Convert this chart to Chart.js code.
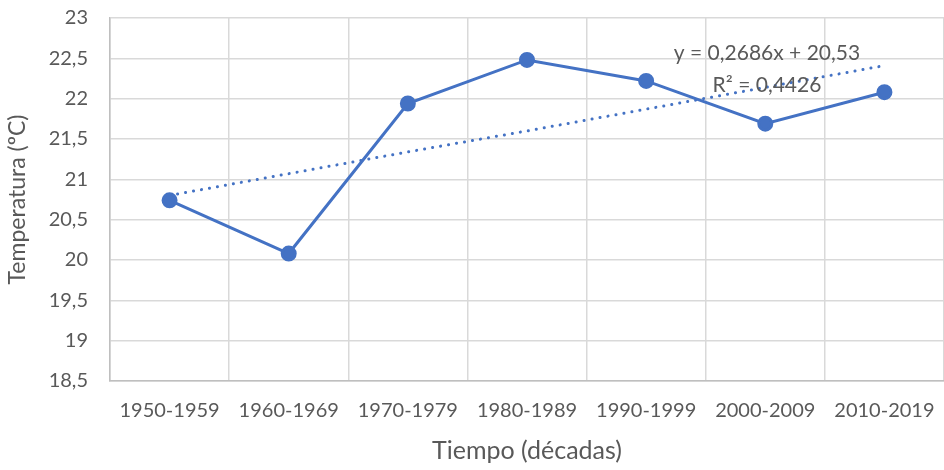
<!DOCTYPE html>
<html>
<head>
<meta charset="utf-8">
<script src="https://cdn.jsdelivr.net/npm/chart.js@4"></script>
<style>
  html, body { margin: 0; padding: 0; background: #fff; }
  #wrap { width: 944px; height: 470px; }
</style>
</head>
<body>
<div id="wrap"><canvas id="myChart" width="944" height="470"></canvas></div>
<script>
const decades = ['1950-1959', '1960-1969', '1970-1979', '1980-1989', '1990-1999', '2000-2009', '2010-2019'];
const temperatures = [20.74, 20.08, 21.94, 22.48, 22.22, 21.69, 22.08];
const trendValues = [20.80, 21.07, 21.34, 21.60, 21.87, 22.14, 22.41];
const trendLabel = ['y = 0,2686x + 20,53', 'R² = 0,4426'];

const fontFamily = 'Lato, "Open Sans", sans-serif';
const textColor = '#595959';

// draws the trendline equation like the spreadsheet label
const trendText = {
    id: 'trendText',
    afterDatasetsDraw(chart) {
        const ctx = chart.ctx;
        ctx.save();
        ctx.font = '21px ' + fontFamily;
        ctx.fillStyle = textColor;
        ctx.textAlign = 'center';
        ctx.textBaseline = 'middle';
        ctx.fillText(trendLabel[0], 767, 53);
        ctx.fillText(trendLabel[1], 767, 85);
        ctx.restore();
    }
};

const ctx = document.getElementById('myChart').getContext('2d');
const myChart = new Chart(ctx, {
    type: 'line',
    data: {
        labels: decades,
        datasets: [{
            label: 'Temperatura',
            data: temperatures,
            borderColor: '#4472C4',
            backgroundColor: '#4472C4',
            borderWidth: 3,
            pointRadius: 6.5,
            pointHoverRadius: 6.5,
            order: 1
        }, {
            label: 'Tendencia',
            data: trendValues,
            borderColor: '#4472C4',
            borderWidth: 3,
            borderDash: [0.1, 8],
            borderCapStyle: 'round',
            pointRadius: 0,
            fill: false,
            order: 2
        }]
    },
    options: {
        responsive: false,
        animation: false,
        layout: { autoPadding: false, padding: { left: 0, right: 0, top: 18, bottom: 0 } },
        plugins: {
            legend: { display: false },
            tooltip: { enabled: false }
        },
        scales: {
            x: {
                offset: true,
                grid: { offset: true, color: '#d9d9d9', lineWidth: 1.5, drawTicks: false },
                border: { color: '#bfbfbf', width: 1.5 },
                ticks: { color: textColor, font: { family: fontFamily, size: 20 }, padding: 18, maxRotation: 0 },
                title: { display: true, text: 'Tiempo (décadas)', color: textColor, font: { family: fontFamily, size: 25 }, padding: { top: 4 } },
                afterFit(scale) {
                    scale.height = 89;
                    scale.paddingLeft = 0;
                    scale.paddingRight = 0;
                }
            },
            y: {
                min: 18.5,
                max: 23,
                grid: { color: '#d9d9d9', lineWidth: 1.5, drawTicks: false },
                border: { color: '#bfbfbf', width: 1.5 },
                ticks: {
                    stepSize: 0.5,
                    color: textColor,
                    font: { family: fontFamily, size: 20 },
                    padding: 22,
                    callback: v => v.toString().replace('.', ',')
                },
                title: { display: true, text: 'Temperatura (ºC)', color: textColor, font: { family: fontFamily, size: 23 }, padding: { bottom: 2 } },
                afterFit(scale) {
                    scale.width = 110;
                    scale.paddingTop = 0;
                    scale.paddingBottom = 0;
                }
            }
        }
    },
    plugins: [trendText]
});
</script>
</body>
</html>
